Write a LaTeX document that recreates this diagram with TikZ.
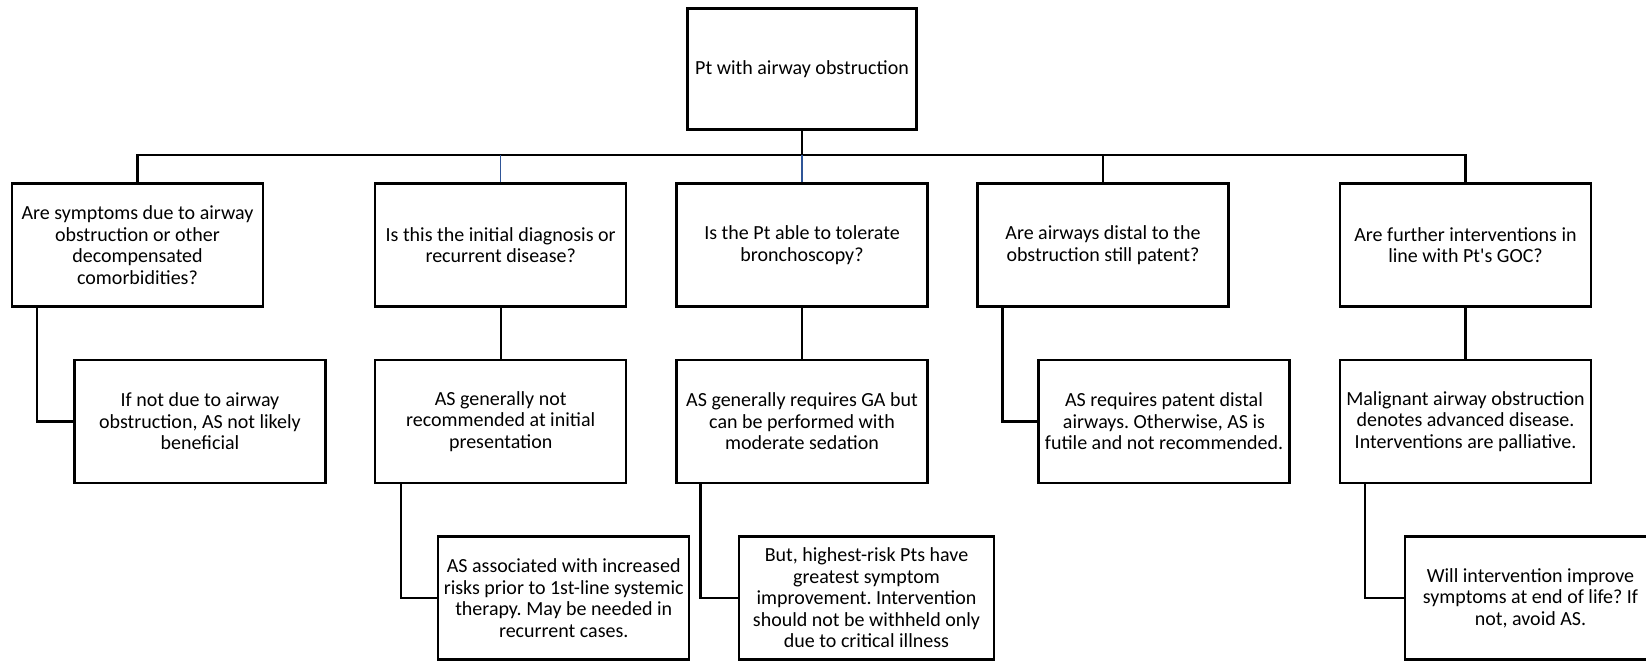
\documentclass[tikz,border=0pt]{standalone}
\usepackage{fontspec}
\setmainfont{Carlito}
\definecolor{linkblue}{RGB}{47,85,151}
\frenchspacing

\begin{document}
\begin{tikzpicture}[x=1pt,y=-1pt]

\tikzset{box/.style = {shape=rectangle,draw,line width=2.2pt,minimum width=251pt,minimum height=123pt,align=center,inner sep=1pt,font=\fontsize{20}{21.5}\selectfont}}
\tikzset{link/.style = {line width=2.2pt}}
\tikzset{bluelink/.style = {line width=1.2pt,draw=linkblue}}

\useasboundingbox (0,0) rectangle (1646,661);

%root
\node[box, minimum width=229pt, minimum height=121pt] (root) at (802,69) {Pt with airway obstruction};
%questions
\node[box] (qA) at (137.5,245) {Are symptoms due to airway\\obstruction or other\\decompensated\\comorbidities?};
\node[box] (qB) at (500.7,245) {Is this the initial diagnosis or\\recurrent disease?};
\node[box] (qC) at (802,245) {Is the Pt able to tolerate\\bronchoscopy?};
\node[box] (qD) at (1103,245) {Are airways distal to the\\obstruction still patent?};
\node[box] (qE) at (1465.5,245) {Are further interventions in\\line with Pt\textquotesingle s GOC?};
%answers
\node[box] (aA) at (200,421.5) {If not due to airway\\obstruction, AS not likely\\beneficial};
\node[box] (aB) at (500.7,421.5) {AS generally not\\recommended at initial\\presentation};
\node[box] (aC) at (802,421.5) {AS generally requires GA but\\can be performed with\\moderate sedation};
\node[box] (aD) at (1164,421.5) {AS requires patent distal\\airways. Otherwise, AS is\\futile and not recommended.};
\node[box] (aE) at (1465.5,421.5) {Malignant airway obstruction\\denotes advanced disease.\\Interventions are palliative.};
%notes
\node[box] (nB) at (563.7,598) {AS associated with increased\\risks prior to 1st-line systemic\\therapy. May be needed in\\recurrent cases.};
\node[box, minimum width=255pt] (nC) at (866.5,598) {But, highest-risk Pts have\\greatest symptom\\improvement. Intervention\\should not be withheld only\\due to critical illness};
\node[box] (nE) at (1530.5,598) {Will intervention improve\\symptoms at end of life? If\\not, avoid AS.};

%lines
\coordinate (bus) at (802,155);
\draw[link] (root) -- (bus);
\draw[link] (qA.north) |- (bus) -| (qE.north);
\draw[link] (qD.north) -- (qD.north |- bus);
\draw[bluelink] (qB.north) -- (qB.north |- bus);
\draw[bluelink] (qC.north) -- (bus);
\draw[link] ([xshift=26pt]qA.south west) |- (aA.west);
\draw[link] (qB) -- (aB);
\draw[link] (qC) -- (aC);
\draw[link] ([xshift=26pt]qD.south west) |- (aD.west);
\draw[link] (qE) -- (aE);
\draw[link] ([xshift=27pt]aB.south west) |- (nB.west);
\draw[link] ([xshift=25pt]aC.south west) |- (nC.west);
\draw[link] ([xshift=26pt]aE.south west) |- (nE.west);

\end{tikzpicture}
\end{document}
